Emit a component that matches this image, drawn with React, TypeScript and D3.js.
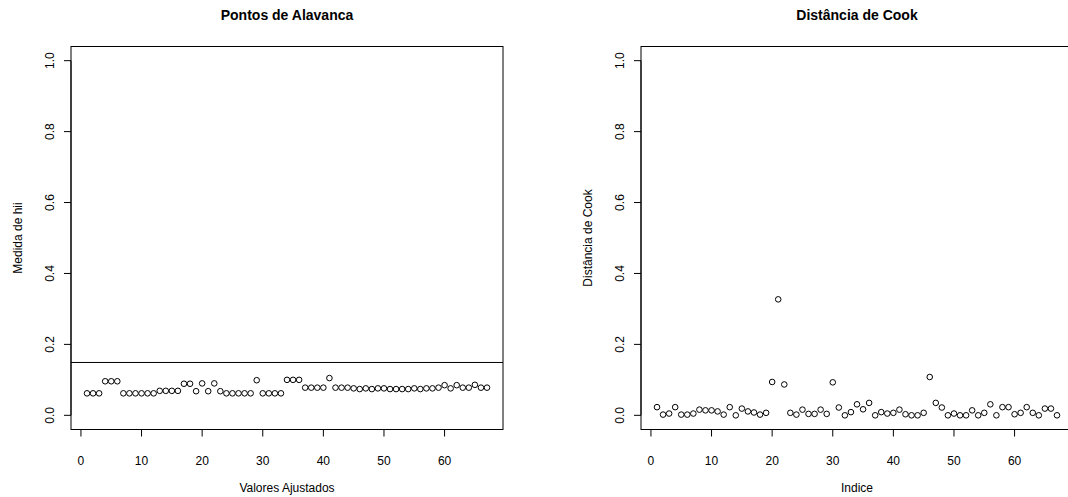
import React from 'react';
import * as d3 from 'd3';

// leverage (hii) per observation, 1..67
const leverage = [
  0.062, 0.062, 0.062, 0.096, 0.096, 0.096, 0.062, 0.062, 0.062, 0.062,
  0.062, 0.062, 0.069, 0.069, 0.069, 0.069, 0.089, 0.089, 0.068, 0.090,
  0.068, 0.090, 0.068, 0.062, 0.062, 0.062, 0.062, 0.062, 0.099, 0.062,
  0.062, 0.062, 0.062, 0.100, 0.100, 0.100, 0.078, 0.078, 0.078, 0.078,
  0.105, 0.078, 0.078, 0.078, 0.076, 0.074, 0.076, 0.074, 0.076, 0.076,
  0.074, 0.074, 0.074, 0.074, 0.076, 0.074, 0.076, 0.076, 0.078, 0.085,
  0.076, 0.085, 0.078, 0.078, 0.086, 0.078, 0.078,
];

// Cook's distance per observation, 1..67
const cook = [
  0.023, 0.002, 0.005, 0.023, 0.002, 0.002, 0.005, 0.016, 0.014, 0.014,
  0.011, 0.002, 0.023, 0.000, 0.019, 0.011, 0.008, 0.002, 0.007, 0.094,
  0.327, 0.087, 0.007, 0.002, 0.016, 0.004, 0.004, 0.016, 0.004, 0.093,
  0.022, 0.000, 0.009, 0.031, 0.017, 0.035, 0.000, 0.009, 0.005, 0.007,
  0.016, 0.003, 0.000, 0.000, 0.007, 0.108, 0.035, 0.022, 0.000, 0.005,
  0.000, 0.000, 0.014, 0.000, 0.007, 0.031, 0.000, 0.023, 0.023, 0.003,
  0.007, 0.023, 0.007, 0.000, 0.019, 0.019, 0.000,
];

const leverageCut = 0.149;
const xTicks = [0, 10, 20, 30, 40, 50, 60];
const yTicks = [0, 0.2, 0.4, 0.6, 0.8, 1.0];

const W = 1068;
const H = 497;
const top = 46.5;
const bottom = 429.5;
const boxW = 432;
const font = 'Liberation Sans, Arial, sans-serif';

type PanelProps = {
  left: number;
  values: number[];
  title: string;
  xLabel: string;
  yLabel: string;
  hline?: number;
};

const Panel = ({ left, values, title, xLabel, yLabel, hline }: PanelProps) => {
  const n = values.length;
  const pad = (n - 1) * 0.04;
  const x = d3.scaleLinear().domain([1 - pad, n + pad]).range([left, left + boxW]);
  const y = d3.scaleLinear().domain([-0.04, 1.04]).range([bottom, top]);
  const cx = left + boxW / 2;

  return (
    <g fontFamily={font} fill="#000">
      <text x={cx} y={20} textAnchor="middle" fontWeight="bold" fontSize={14}>{title}</text>
      <rect x={left} y={top} width={boxW} height={bottom - top} fill="none" stroke="#000" strokeWidth={1} />

      {/* x axis */}
      <line x1={x(xTicks[0])} x2={x(xTicks[xTicks.length - 1])} y1={bottom} y2={bottom} stroke="#000" />
      {xTicks.map(t => (
        <g key={'x' + t}>
          <line x1={x(t)} x2={x(t)} y1={bottom} y2={bottom + 7} stroke="#000" />
          <text x={x(t)} y={bottom + 35} textAnchor="middle" fontSize={12}>{t}</text>
        </g>
      ))}
      <text x={cx} y={492} textAnchor="middle" fontSize={12}>{xLabel}</text>

      {/* y axis */}
      <line x1={left} x2={left} y1={y(0)} y2={y(1)} stroke="#000" />
      {yTicks.map(t => (
        <g key={'y' + t}>
          <line x1={left - 7} x2={left} y1={y(t)} y2={y(t)} stroke="#000" />
          <text transform={`translate(${left - 17},${y(t)}) rotate(-90)`} textAnchor="middle" fontSize={12}>
            {t.toFixed(1)}
          </text>
        </g>
      ))}
      <text transform={`translate(${left - 49},${(top + bottom) / 2}) rotate(-90)`} textAnchor="middle" fontSize={12}>
        {yLabel}
      </text>

      {hline !== undefined && (
        <line x1={left} x2={left + boxW} y1={y(hline)} y2={y(hline)} stroke="#000" />
      )}

      {values.map((v, i) => (
        <circle key={i} cx={x(i + 1)} cy={y(v)} r={2.8} fill="none" stroke="#000" strokeWidth={1} />
      ))}
    </g>
  );
};

const App = () => (
  <svg width={W} height={H} style={{ position: 'fixed', left: 0, top: 0, background: '#fff' }}>
    <rect width={W} height={H} fill="#fff" />
    <Panel left={71} values={leverage} title="Pontos de Alavanca" xLabel="Valores Ajustados"
      yLabel="Medida de hii" hline={leverageCut} />
    <Panel left={641} values={cook} title="Distância de Cook" xLabel="Indice"
      yLabel="Distância de Cook" />
  </svg>
);

export default App;
